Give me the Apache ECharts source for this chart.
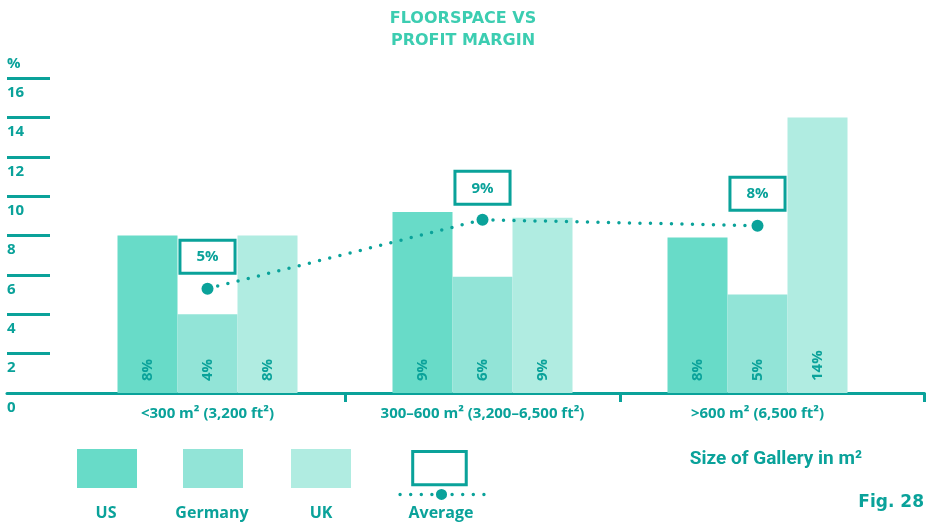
<!DOCTYPE html>
<html>
<head>
<meta charset="utf-8">
<script src="https://cdn.jsdelivr.net/npm/echarts@6/dist/echarts.min.js"></script>
<style>
html,body{margin:0;padding:0;background:#fff;}
#chart{width:926px;height:523px;}
</style>
</head>
<body>
<div id="chart"></div>
<script>
const categories = ['<300 m² (3,200 ft²)', '300–600 m² (3,200–6,500 ft²)', '>600 m² (6,500 ft²)'];
const seriesNames = ['US', 'Germany', 'UK', 'Average'];
const usValues = [8, 9.2, 7.9];
const germanyValues = [4, 5.9, 5];
const ukValues = [8, 8.9, 14];
const averageValues = [5.3, 8.8, 8.5];
const averageLabels = ['5%', '9%', '8%'];

const TEAL = '#0aa29a';
const TITLE = '#3ccdb1';
const BAR_COLORS = ['#68dbc8', '#92e4d7', '#b0ece1'];
const FONT = '"Open Sans", Lato, sans-serif';

const avgIcon = 'path://M13 0H69V36H13Z M16 3V33H66V3Z' +
  [2, 12.5, 23, 33.5].concat([53.5, 64, 74.5, 85]).map(function (x) {
    return ' M' + (x - 1.7) + ' 44a1.7 1.7 0 1 0 3.4 0a1.7 1.7 0 1 0 -3.4 0Z';
  }).join('') + ' M37.5 44a5.5 5.5 0 1 0 11 0a5.5 5.5 0 1 0 -11 0Z';

// category boundaries (between bands), in band units
const boundaryTicks = categories.slice(1).map(function (_, i) { return i + 1; });

const chart = echarts.init(document.getElementById('chart'), null, {renderer: 'canvas'});

function barSeries(name, data, color) {
  return {
    name: name, type: 'bar', xAxisIndex: 1, yAxisIndex: 1,
    data: data, barWidth: 60, barGap: '0%',
    itemStyle: {color: color},
    label: {
      show: true, position: 'insideBottom', rotate: 90, distance: 12,
      align: 'left', verticalAlign: 'middle',
      formatter: function (p) { return Math.round(p.value) + '%'; },
      color: TEAL, fontFamily: FONT, fontWeight: 'bold', fontSize: 15
    }
  };
}

const option = {
  backgroundColor: '#fff',
  animation: false,
  title: [
    {text: 'FLOORSPACE VS\nPROFIT MARGIN', left: 'center', top: 3,
     textStyle: {color: TITLE, fontFamily: '"DejaVu Sans", sans-serif', fontWeight: 'bold', fontSize: 16, lineHeight: 22}},
    {text: 'Size of Gallery in m²', right: 59, top: 445,
     textStyle: {color: TEAL, fontFamily: 'Roboto, sans-serif', fontWeight: 'bold', fontSize: 19}},
    {text: 'Fig. 28', right: -3, top: 489,
     textStyle: {color: TEAL, fontFamily: '"DejaVu Sans", sans-serif', fontWeight: 'bold', fontSize: 17}}
  ],
  legend: [
    {data: [{name: 'US', icon: 'rect'}], left: 77, top: 449, itemWidth: 60, itemHeight: 39, padding: 0, formatter: function () { return ''; }},
    {data: [{name: 'Germany', icon: 'rect'}], left: 183, top: 449, itemWidth: 60, itemHeight: 39, padding: 0, formatter: function () { return ''; }},
    {data: [{name: 'UK', icon: 'rect'}], left: 291, top: 449, itemWidth: 60, itemHeight: 39, padding: 0, formatter: function () { return ''; }},
    {data: [{name: 'Average', icon: avgIcon, itemStyle: {color: TEAL, borderWidth: 0}}], left: 398, top: 450, itemWidth: 88, itemHeight: 50, padding: 0, formatter: function () { return ''; }}
  ],
  graphic: seriesNames.map(function (n, i) {
    return {type: 'text', x: [106, 212, 321, 441][i], y: 513,
      style: {text: n, fill: TEAL, font: 'bold 16px ' + FONT, textAlign: 'center', textVerticalAlign: 'middle'}};
  }),
  grid: [
    {left: 7, width: 43, top: 78, bottom: 130},
    {left: 70, right: 31, top: 78, bottom: 130},
    {left: 7, right: 1.5, top: 78, bottom: 130},
    {left: 70, right: 31, top: 78, bottom: 130}
  ],
  xAxis: [
    {gridIndex: 0, type: 'category', data: [''], show: false},
    {gridIndex: 1, type: 'category', data: categories,
     axisLine: {show: false}, axisTick: {show: false},
     axisLabel: {color: TEAL, fontFamily: FONT, fontWeight: 'bold', fontSize: 15, margin: 13}},
    {gridIndex: 2, type: 'value', min: 0, max: 1, interval: 1,
     axisLine: {show: true, lineStyle: {color: TEAL, width: 3}},
     axisTick: {show: true, length: 9, lineStyle: {color: TEAL, width: 3}, customValues: [1]},
     axisLabel: {show: false}, splitLine: {show: false}},
    {gridIndex: 3, type: 'value', min: 0, max: categories.length, interval: 1,
     axisLine: {show: false},
     axisTick: {show: true, length: 9, lineStyle: {color: TEAL, width: 3}, customValues: boundaryTicks},
     axisLabel: {show: false}, splitLine: {show: false}}
  ],
  yAxis: [
    {gridIndex: 0, type: 'value', min: 0, max: 16, interval: 2,
     name: '%', nameLocation: 'end', nameGap: 14,
     nameTextStyle: {color: TEAL, fontFamily: FONT, fontWeight: 'bold', fontSize: 15, align: 'left', verticalAlign: 'middle'},
     axisLine: {show: false}, axisTick: {show: false},
     splitLine: {show: true, lineStyle: {color: TEAL, width: 3}},
     axisLabel: {inside: true, margin: 0, color: TEAL, fontFamily: FONT, fontWeight: 'bold', fontSize: 15,
                 verticalAlign: 'top', padding: [7, 0, 0, 0]}},
    {gridIndex: 1, type: 'value', min: 0, max: 16, interval: 2, show: false, splitLine: {show: false}},
    {gridIndex: 2, type: 'value', min: 0, max: 16, interval: 2, show: false, splitLine: {show: false}},
    {gridIndex: 3, type: 'value', min: 0, max: 16, interval: 2, show: false, splitLine: {show: false}}
  ],
  series: [
    barSeries('US', usValues, BAR_COLORS[0]),
    barSeries('Germany', germanyValues, BAR_COLORS[1]),
    barSeries('UK', ukValues, BAR_COLORS[2]),
    {
      name: 'Average', type: 'line', xAxisIndex: 1, yAxisIndex: 1, z: 5,
      data: averageValues,
      symbol: 'circle', symbolSize: 12,
      itemStyle: {color: TEAL},
      lineStyle: {color: TEAL, width: 3.5, type: [0, 10.5], cap: 'round'},
      label: {
        show: true, position: 'top', distance: 11,
        formatter: function (p) { return averageLabels[p.dataIndex]; },
        color: TEAL, fontFamily: FONT, fontWeight: 'bold', fontSize: 15,
        backgroundColor: '#fff', borderColor: TEAL, borderWidth: 3,
        padding: [8, 15, 7, 15]
      }
    }
  ]
};
chart.setOption(option);
</script>
</body>
</html>
